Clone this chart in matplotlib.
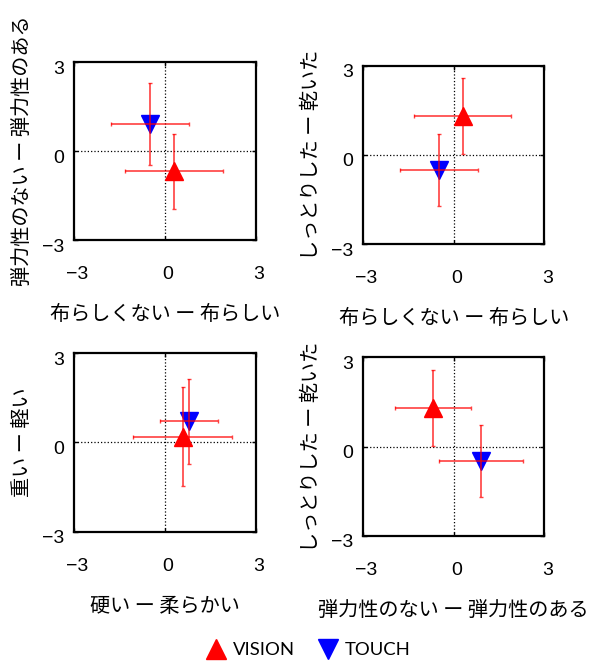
import matplotlib
matplotlib.use('Agg')
import matplotlib.pyplot as plt
import matplotlib.transforms as mtransforms
from matplotlib.lines import Line2D

# Axis labels of the four panels (top-left, top-right, bottom-left, bottom-right)
x_labels = ['布らしくない ー 布らしい', '布らしくない ー 布らしい',
            '硬い ー 柔らかい', '弾力性のない ー 弾力性のある']
y_labels = ['弾力性のない ー 弾力性のある', 'しっとりした ー 乾いた',
            '重い ー 軽い', 'しっとりした ー 乾いた']

# VISION means and standard deviations per panel
vision_x = [0.29, 0.29, 0.58, -0.69]
vision_y = [-0.69, 1.30, 0.20, 1.30]
vision_xerr = [1.61, 1.61, 1.63, 1.27]
vision_yerr = [1.27, 1.28, 1.65, 1.28]

# TOUCH means and standard deviations per panel
touch_x = [-0.50, -0.50, 0.79, 0.90]
touch_y = [0.90, -0.50, 0.71, -0.50]
touch_xerr = [1.29, 1.29, 0.97, 1.38]
touch_yerr = [1.38, 1.21, 1.43, 1.21]

tick_values = [-3, 0, 3]
tick_labels = ['\u22123', '0', '3']

jp_font = ['Noto Sans CJK JP', 'DejaVu Sans']
num_font = ['Liberation Sans', 'DejaVu Sans']

fig = plt.figure(figsize=(6.09, 6.66), dpi=100)

# axes rectangles in figure fraction
positions = [[0.1215, 0.6396, 0.2989, 0.2673],
             [0.5965, 0.6336, 0.2972, 0.2677],
             [0.1215, 0.2017, 0.2989, 0.2678],
             [0.5965, 0.1956, 0.2972, 0.2678]]

for i in range(4):
    ax = fig.add_axes(positions[i])
    ax.set_xlim(-3, 3)
    ax.set_ylim(-3, 3)
    ax.axhline(0, color='black', linestyle=':', linewidth=0.9, zorder=1)
    ax.axvline(0, color='black', linestyle=':', linewidth=0.9, zorder=1)

    # markers below, error bars on top
    ax.plot(vision_x[i], vision_y[i], marker='^', color='red', markersize=13,
            linestyle='', zorder=2)
    ax.plot(touch_x[i], touch_y[i], marker='v', color='blue', markersize=13,
            linestyle='', zorder=2)
    ax.errorbar(vision_x[i], vision_y[i], xerr=vision_xerr[i], yerr=vision_yerr[i],
                fmt='none', ecolor='red', elinewidth=1.2, capsize=1.5, alpha=0.75,
                zorder=3)
    ax.errorbar(touch_x[i], touch_y[i], xerr=touch_xerr[i], yerr=touch_yerr[i],
                fmt='none', ecolor='red', elinewidth=1.2, capsize=1.5, alpha=0.75,
                zorder=3)

    ax.set_xticks(tick_values)
    ax.set_yticks(tick_values)
    ax.set_xticklabels(tick_labels, fontfamily=num_font, fontsize=14)
    ax.set_yticklabels(tick_labels, fontfamily=num_font, fontsize=14)
    ax.tick_params(direction='in', length=3, width=1, top=True, right=True)
    ax.tick_params(axis='x', pad=19)
    ax.tick_params(axis='y', pad=7)
    for lab in ax.get_yticklabels():
        lab.set_transform(lab.get_transform() +
                          mtransforms.ScaledTranslation(0, -5 / 100, fig.dpi_scale_trans))
    for lab in ax.get_xticklabels():
        lab.set_transform(lab.get_transform() +
                          mtransforms.ScaledTranslation(3 / 100, 0, fig.dpi_scale_trans))
    for sp in ax.spines.values():
        sp.set_linewidth(1.6)

    ax.set_xlabel(x_labels[i], fontfamily=jp_font, fontsize=14.5)
    ax.set_ylabel(y_labels[i], fontfamily=jp_font, fontsize=14.5)
    ax.xaxis.set_label_coords(0.5, -0.42)
    ax.yaxis.set_label_coords(-0.285, 0.5)
    ax.xaxis.label.set_va('center')
    ax.yaxis.label.set_va('center')

handles = [Line2D([], [], marker='^', color='red', linestyle='', markersize=15),
           Line2D([], [], marker='v', color='blue', linestyle='', markersize=15)]
fig.legend(handles, ['VISION', 'TOUCH'], loc='center', bbox_to_anchor=(0.505, 0.024),
           ncol=2, frameon=False, handletextpad=0.3, columnspacing=1.2,
           handlelength=1.2, prop={'family': 'Lato', 'size': 13.3})

fig.savefig('out.png', dpi=100)
